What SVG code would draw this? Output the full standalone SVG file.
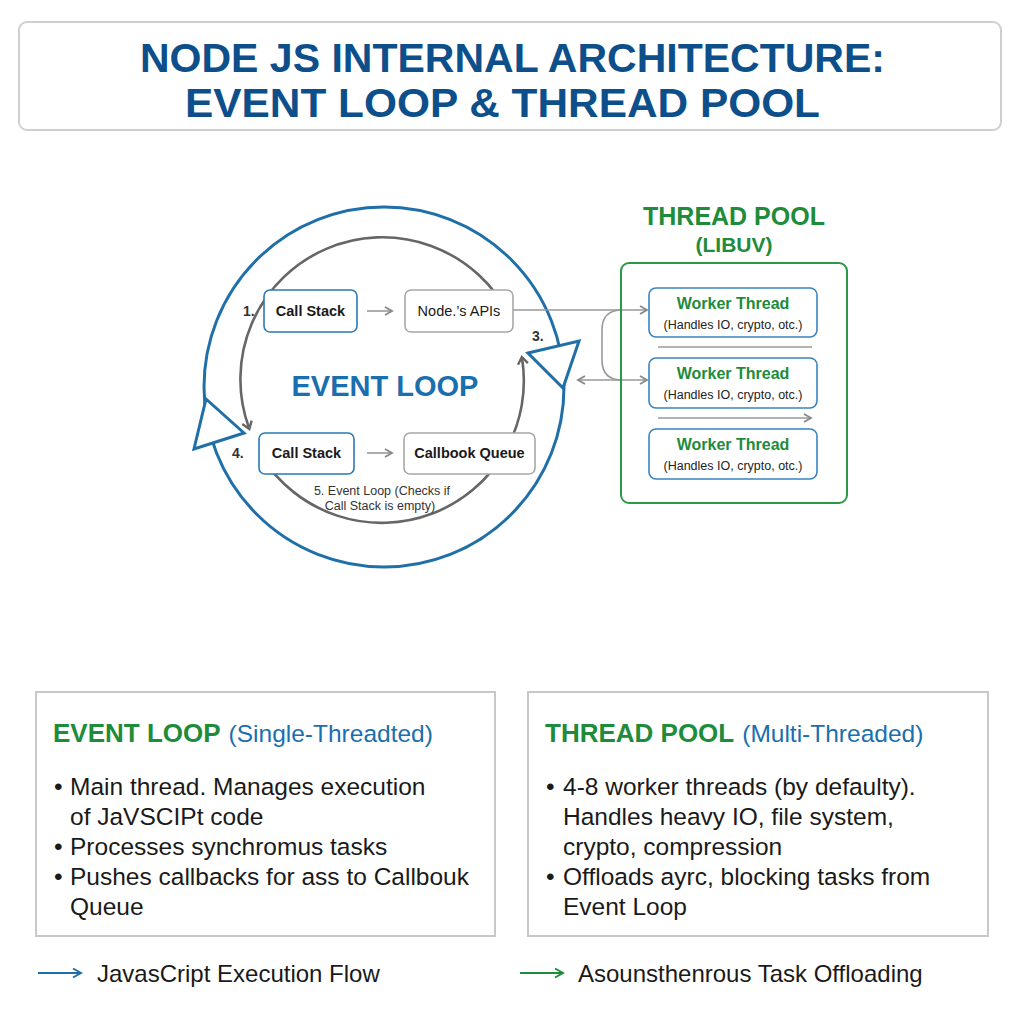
<svg xmlns="http://www.w3.org/2000/svg" width="1024" height="1024" viewBox="0 0 1024 1024">
<defs>
<style>
text{font-family:"Liberation Sans",Arial,sans-serif}
.title{font-size:40px;font-weight:bold;fill:#0d4f8b}
.gline{fill:none;stroke:#666;stroke-width:2.6}
.gthin{fill:none;stroke:#999;stroke-width:1.6}
.bbox{fill:#fff;stroke:#2a7ab5;stroke-width:1.6}
.wbox{fill:#fff;stroke:#3a84c0;stroke-width:1.6}
.gbox{fill:#fff;stroke:#a8a8a8;stroke-width:1.6}
.lbl{font-size:14.5px;font-weight:bold;fill:#1a1a1a;text-anchor:middle}
.num{font-size:14px;font-weight:bold;fill:#333}
.wt{font-size:16px;font-weight:bold;fill:#1e8c3a;text-anchor:middle}
.ws{font-size:12.5px;fill:#222;text-anchor:middle}
.hg{font-size:26px;font-weight:bold;fill:#1e8c3a}
.hb{font-size:24.5px;fill:#1a6fae}
.bt{font-size:24.5px;fill:#1a1a1a}
.lg{font-size:24px;fill:#1a1a1a}
</style>
<marker id="ga" markerWidth="10" markerHeight="10" refX="8" refY="5" orient="auto" markerUnits="userSpaceOnUse">
<path d="M1,1 L8,5 L1,9" fill="none" stroke="#888" stroke-width="1.8"/>
</marker>
<marker id="gas" markerWidth="10" markerHeight="10" refX="2" refY="5" orient="auto" markerUnits="userSpaceOnUse">
<path d="M9,1 L2,5 L9,9" fill="none" stroke="#888" stroke-width="1.8"/>
</marker>
<marker id="ca" markerWidth="14" markerHeight="14" refX="7" refY="7" orient="auto" markerUnits="userSpaceOnUse">
<path d="M1,2 L8,7 L1,12" fill="none" stroke="#666" stroke-width="2.4"/>
</marker>
<marker id="ba" markerWidth="12" markerHeight="12" refX="10" refY="6" orient="auto" markerUnits="userSpaceOnUse">
<path d="M2,1.5 L10,6 L2,10.5" fill="none" stroke="#1f6fa8" stroke-width="2"/>
</marker>
<marker id="gra" markerWidth="12" markerHeight="12" refX="10" refY="6" orient="auto" markerUnits="userSpaceOnUse">
<path d="M2,1.5 L10,6 L2,10.5" fill="none" stroke="#1e8c3a" stroke-width="2"/>
</marker>
</defs>
<rect width="1024" height="1024" fill="#fff"/>

<g id="title">
<rect x="19" y="22" width="982" height="108" rx="8" fill="#fff" stroke="#cfcfcf" stroke-width="2"/>
<text class="title" x="140" y="72" textLength="745" lengthAdjust="spacingAndGlyphs">NODE JS INTERNAL ARCHITECTURE:</text>
<text class="title" x="185" y="117" textLength="635" lengthAdjust="spacingAndGlyphs">EVENT LOOP &amp; THREAD POOL</text>
</g>

<g id="connectors">
<circle cx="384" cy="387" r="180" fill="none" stroke="#1f6fa8" stroke-width="3"/>
<path d="M509.5,316 A142,142 0 0 0 249,428" class="gline" marker-end="url(#ca)"/>
<path d="M262,457 A142,142 0 0 0 522,358" class="gline" marker-end="url(#ca)"/>
<line x1="367" y1="311" x2="392" y2="311" class="gthin" marker-end="url(#ga)"/>
<line x1="367" y1="453" x2="392" y2="453" class="gthin" marker-end="url(#ga)"/>
<line x1="513" y1="310" x2="647" y2="310" class="gthin" marker-end="url(#ga)"/>
<path d="M622,310 Q602,310 602,330 L602,360 Q602,380 622,380" class="gthin"/>
<line x1="578" y1="380" x2="647" y2="380" class="gthin" marker-start="url(#gas)" marker-end="url(#ga)"/>
<line x1="658" y1="347" x2="812" y2="347" class="gthin"/>
<line x1="658" y1="418" x2="811" y2="418" class="gthin" marker-end="url(#ga)"/>
<polygon points="206,399 194,449 244,433" fill="#fff" stroke="#1f6fa8" stroke-width="3"/>
<polygon points="528,353 579,341 563,388" fill="#fff" stroke="#1f6fa8" stroke-width="3"/>
</g>

<g id="event-loop">
<text x="385" y="396" font-size="29" font-weight="bold" fill="#1a6fae" text-anchor="middle">EVENT LOOP</text>
<text x="382" y="495" font-size="12.5" fill="#333" text-anchor="middle">5. Event Loop (Checks if</text>
<text x="380" y="510" font-size="12.5" fill="#333" text-anchor="middle">Call Stack is empty)</text>
<text class="num" x="243" y="316">1.</text>
<text class="num" x="232" y="458">4.</text>
<text class="num" x="532" y="341">3.</text>
</g>

<g id="call-stack-1">
<rect class="bbox" x="264" y="290" width="93" height="42" rx="6"/>
<text class="lbl" x="310.5" y="316">Call Stack</text>
</g>
<g id="node-apis">
<rect class="gbox" x="405" y="290" width="108" height="42" rx="6"/>
<text class="lbl" x="459" y="316" style="font-weight:500">Node.’s APIs</text>
</g>
<g id="call-stack-4">
<rect class="bbox" x="259" y="433" width="95" height="41" rx="6"/>
<text class="lbl" x="306.5" y="458">Call Stack</text>
</g>
<g id="callback-queue">
<rect class="gbox" x="404" y="433" width="131" height="41" rx="6"/>
<text class="lbl" x="469.5" y="458">Callbook Queue</text>
</g>

<g id="thread-pool">
<text x="734" y="225" font-size="25" font-weight="bold" fill="#1e8c3a" text-anchor="middle">THREAD POOL</text>
<text x="734" y="252" font-size="21" font-weight="bold" fill="#1e8c3a" text-anchor="middle">(LIBUV)</text>
<rect x="621" y="263" width="226" height="240" rx="8" fill="none" stroke="#2a9a48" stroke-width="2"/>
</g>
<g id="worker-1">
<rect class="wbox" x="649" y="288" width="168" height="49" rx="7"/>
<text class="wt" x="733" y="309">Worker Thread</text>
<text class="ws" x="733" y="329">(Handles IO, crypto, otc.)</text>
</g>
<g id="worker-2">
<rect class="wbox" x="649" y="358" width="168" height="50" rx="7"/>
<text class="wt" x="733" y="379">Worker Thread</text>
<text class="ws" x="733" y="399">(Handles IO, crypto, otc.)</text>
</g>
<g id="worker-3">
<rect class="wbox" x="649" y="429" width="168" height="50" rx="7"/>
<text class="wt" x="733" y="450">Worker Thread</text>
<text class="ws" x="733" y="470">(Handles IO, crypto, otc.)</text>
</g>

<g id="panel-event-loop">
<rect x="36" y="692" width="459" height="244" fill="#fff" stroke="#c8c8c8" stroke-width="2"/>
<text x="53" y="742"><tspan class="hg">EVENT LOOP</tspan><tspan class="hb" dx="8">(Single-Threadted)</tspan></text>
<text class="bt" x="54" y="795">•</text><text class="bt" x="70" y="795">Main thread. Manages execution</text>
<text class="bt" x="70" y="825">of JaVSCIPt code</text>
<text class="bt" x="54" y="855">•</text><text class="bt" x="70" y="855">Processes synchromus tasks</text>
<text class="bt" x="54" y="885">•</text><text class="bt" x="70" y="885">Pushes callbacks for ass to Callbouk</text>
<text class="bt" x="70" y="915">Queue</text>
</g>

<g id="panel-thread-pool">
<rect x="528" y="692" width="460" height="244" fill="#fff" stroke="#c8c8c8" stroke-width="2"/>
<text x="545" y="742"><tspan class="hg">THREAD POOL</tspan><tspan class="hb" dx="8">(Multi-Threaded)</tspan></text>
<text class="bt" x="546" y="795">•</text><text class="bt" x="563" y="795">4-8 worker threads (by defaulty).</text>
<text class="bt" x="563" y="825">Handles heavy IO, file system,</text>
<text class="bt" x="563" y="855">crypto, compression</text>
<text class="bt" x="546" y="885">•</text><text class="bt" x="563" y="885">Offloads ayrc, blocking tasks from</text>
<text class="bt" x="563" y="915">Event Loop</text>
</g>

<g id="legend">
<line x1="38" y1="973" x2="81" y2="973" stroke="#1f6fa8" stroke-width="2" marker-end="url(#ba)"/>
<text class="lg" x="97" y="982">JavasCript Execution Flow</text>
<line x1="520" y1="973" x2="563" y2="973" stroke="#1e8c3a" stroke-width="2" marker-end="url(#gra)"/>
<text class="lg" x="578" y="982">Asounsthenrous Task Offloading</text>
</g>
</svg>
